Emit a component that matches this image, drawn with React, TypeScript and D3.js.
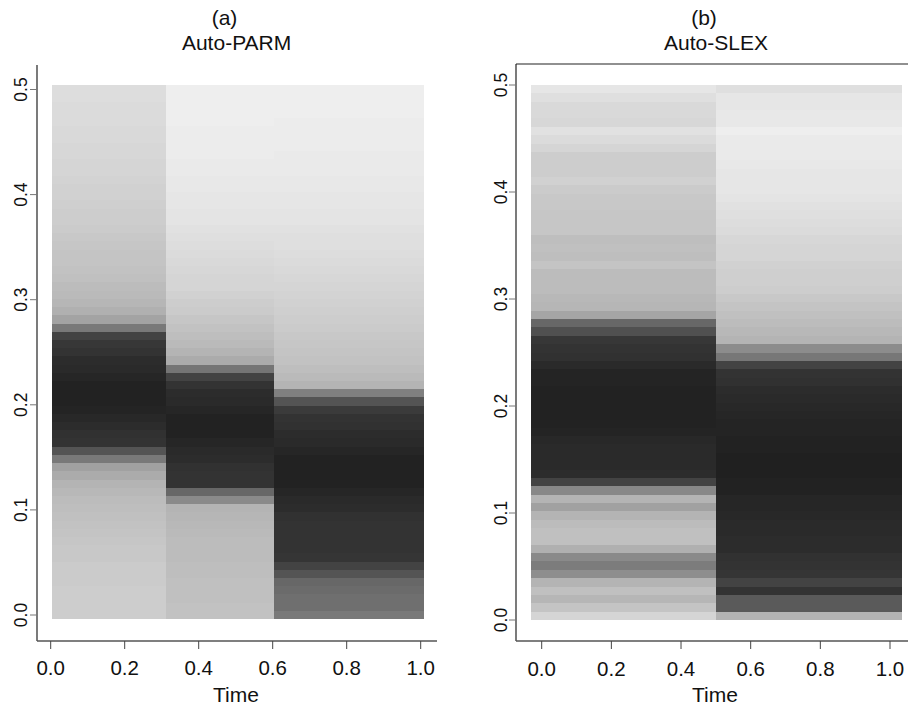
import React from "react";
import * as d3 from "d3";

// Time-varying spectra (relative log power, 0 = low, 100 = high) for two
// segmentation methods. Rows run from frequency 0 upward.

// Auto-PARM: 3 segments, 65 frequencies at k/128, k = 0..64
const PARM_BREAKS = [0.0035, 0.3125, 0.604, 1.008];
const PARM_SEG1 = [
  17, 17, 17, 17, 18, 18, 18, 19, 19, 20,
  21, 22, 23, 24, 25, 27, 29, 33, 38, 57,
  75, 91, 92, 94, 96, 98, 99, 99, 99, 97,
  95, 94, 91, 89, 83, 57, 37, 31, 28, 26,
  25, 23, 22, 21, 21, 20, 19, 18, 17, 17,
  16, 15, 15, 14, 13, 13, 12, 12, 11, 11,
  10, 10, 10, 9, 9,
];
const PARM_SEG2 = [
  22, 22, 23, 23, 23, 24, 24, 25, 25, 25,
  26, 27, 28, 29, 49, 66, 91, 91, 92, 94,
  95, 97, 99, 99, 99, 97, 95, 94, 91, 83,
  59, 33, 29, 26, 24, 22, 20, 18, 17, 15,
  13, 13, 12, 11, 10, 9, 8, 7, 6, 6,
  5, 5, 4, 4, 3, 3, 2, 2, 2, 2,
  1, 1, 1, 1, 1,
];
const PARM_SEG3 = [
  57, 62, 62, 64, 66, 75, 83, 90, 91, 91,
  91, 91, 92, 94, 95, 97, 99, 99, 99, 99,
  97, 95, 94, 92, 91, 87, 75, 54, 29, 26,
  24, 22, 21, 20, 19, 18, 17, 16, 15, 14,
  13, 12, 11, 10, 9, 8, 8, 7, 6, 6,
  5, 5, 4, 4, 3, 3, 3, 2, 2, 2,
  2, 1, 1, 1, 1,
];

// Auto-SLEX: 2 segments, 64 frequency bands [k/128, (k+1)/128)
const SLEX_BREAKS = [-0.031, 0.5, 1.035];
const SLEX_SEG1 = [
  13, 21, 28, 23, 29, 47, 56, 49, 31, 23,
  23, 25, 29, 38, 29, 50, 83, 94, 95, 95,
  95, 96, 98, 99, 99, 99, 99, 99, 98, 98,
  95, 92, 91, 89, 77, 66, 36, 28, 27, 25,
  25, 25, 21, 24, 23, 24, 20, 20, 20, 19,
  19, 18, 15, 17, 17, 17, 13, 10, 7, 12,
  11, 11, 8, 5,
];
const SLEX_SEG2 = [
  29, 72, 72, 91, 83, 90, 91, 92, 94, 94,
  95, 95, 96, 97, 97, 99, 99, 100, 100, 100,
  99, 99, 98, 98, 97, 96, 95, 94, 92, 91,
  83, 58, 48, 29, 27, 25, 23, 21, 19, 17,
  16, 16, 15, 13, 13, 12, 10, 9, 8, 7,
  6, 5, 5, 5, 4, 3, 3, 3, 1, 4,
  4, 5, 5, 8,
];

const TIME_TICKS = [0, 0.2, 0.4, 0.6, 0.8, 1.0];
const FREQ_TICKS = [0, 0.1, 0.2, 0.3, 0.4, 0.5];

const FONT = "'Liberation Sans', Arial, Helvetica, sans-serif";
const gray = d3
  .scaleLinear<string>()
  .domain([0, 100])
  .range(["#f0f0f0", "#202020"])
  .interpolate(d3.interpolateRgb);

type Panel = {
  letter: string;
  title: string;
  breaks: number[];
  segs: number[][];
  centered: boolean; // rows centred on k/128 (true) or spanning [k/128,(k+1)/128)
  x: d3.ScaleLinear<number, number>;
  y: d3.ScaleLinear<number, number>;
  left: number;
  right: number;
  top: number;
  bottom: number;
  boxed: boolean;
  titleX: number;
  letterX: number;
  yLabelX: number;
  xLabelY: number;
  xTitleX: number;
};

const panels: Panel[] = [
  {
    letter: "(a)",
    title: "Auto-PARM",
    breaks: PARM_BREAKS,
    segs: [PARM_SEG1, PARM_SEG2, PARM_SEG3],
    centered: true,
    x: d3.scaleLinear().domain([0, 1]).range([50.7, 420.7]),
    y: d3.scaleLinear().domain([0, 0.5]).range([615, 89.5]),
    left: 37,
    right: 437,
    top: 65,
    bottom: 641,
    boxed: false,
    titleX: 236.6,
    letterX: 224.5,
    yLabelX: 27,
    xLabelY: 675,
    xTitleX: 236,
  },
  {
    letter: "(b)",
    title: "Auto-SLEX",
    breaks: SLEX_BREAKS,
    segs: [SLEX_SEG1, SLEX_SEG2],
    centered: false,
    x: d3.scaleLinear().domain([0, 1]).range([541.7, 890]),
    y: d3.scaleLinear().domain([0, 0.5]).range([620, 85]),
    left: 516,
    right: 917,
    top: 64,
    bottom: 641,
    boxed: true,
    titleX: 716,
    letterX: 704,
    yLabelX: 507,
    xLabelY: 676,
    xTitleX: 715,
  },
];

function PanelView({ p }: { p: Panel }) {
  const step = 1 / 128;
  const cells: React.ReactNode[] = [];
  p.segs.forEach((vals, s) => {
    const x0 = p.x(p.breaks[s]);
    const x1 = p.x(p.breaks[s + 1]);
    vals.forEach((v, k) => {
      const f0 = p.centered ? k * step - step / 2 : k * step;
      const f1 = f0 + step;
      const yTop = p.y(f1);
      const yBot = p.y(f0);
      cells.push(
        <rect
          key={`${s}-${k}`}
          x={x0}
          y={yTop}
          width={x1 - x0}
          height={yBot - yTop}
          fill={gray(v)}
        />
      );
    });
  });

  return (
    <g>
      <text x={p.letterX} y={24.5} fontSize={21} textAnchor="middle" fill="#111">
        {p.letter}
      </text>
      <text x={p.titleX} y={50} fontSize={21} textAnchor="middle" fill="#111">
        {p.title}
      </text>
      <g shapeRendering="crispEdges">{cells}</g>
      <line x1={p.left} x2={p.left} y1={p.top} y2={p.bottom} stroke="#222" strokeWidth={1.2} />
      <line x1={p.left} x2={p.right} y1={p.bottom} y2={p.bottom} stroke="#555" strokeWidth={1.6} />
      {p.boxed && (
        <line x1={p.left} x2={p.right} y1={p.top} y2={p.top} stroke="#222" strokeWidth={1.2} />
      )}
      {FREQ_TICKS.map((t) => (
        <g key={`y${t}`}>
          <line
            x1={p.left - 7}
            x2={p.left}
            y1={p.y(t)}
            y2={p.y(t)}
            stroke="#777"
            strokeWidth={1}
          />
          <text
            transform={`translate(${p.yLabelX},${p.y(t)}) rotate(-90)`}
            textAnchor="middle"
            fontSize={17.5}
            fill="#111"
          >
            {t.toFixed(1)}
          </text>
        </g>
      ))}
      {TIME_TICKS.map((t) => (
        <g key={`x${t}`}>
          <line
            x1={p.x(t)}
            x2={p.x(t)}
            y1={p.bottom}
            y2={p.bottom + 8}
            stroke="#444"
            strokeWidth={1}
          />
          <text x={p.x(t)} y={p.xLabelY} textAnchor="middle" fontSize={20.5} fill="#111">
            {t.toFixed(1)}
          </text>
        </g>
      ))}
      <text x={p.xTitleX} y={702} textAnchor="middle" fontSize={21} fill="#111">
        Time
      </text>
    </g>
  );
}

export default function App() {
  return (
    <svg
      width={908}
      height={706}
      viewBox="0 0 908 706"
      style={{ position: "absolute", left: 0, top: 0, background: "#fff" }}
      fontFamily={FONT}
    >
      <rect x={0} y={0} width={908} height={706} fill="#fff" />
      {panels.map((p) => (
        <PanelView key={p.title} p={p} />
      ))}
    </svg>
  );
}
